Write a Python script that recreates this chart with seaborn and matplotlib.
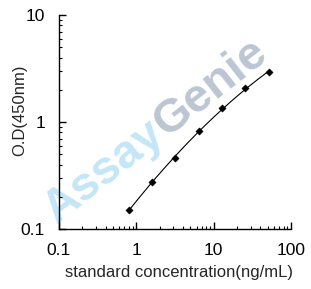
import numpy as np
import pandas as pd
import matplotlib
matplotlib.use("Agg")
import matplotlib.pyplot as plt
import seaborn as sns
from matplotlib.ticker import LogLocator, NullFormatter

concentration = [0.8, 1.6, 3.2, 6.4, 12.8, 25.6, 51.2]
od450 = [0.151, 0.275, 0.458, 0.818, 1.343, 2.06, 2.91]
x_ticks = [0.1, 1, 10, 100]
x_tick_labels = ["0.1", "1", "10", "100"]
y_ticks = [0.1, 1, 10]
y_tick_labels = ["0.1", "1", "10"]

sns.set_style("ticks")
plt.rcParams['font.family'] = ['Liberation Sans', 'DejaVu Sans']

df = pd.DataFrame({"conc": concentration, "od": od450})

# smooth fitted curve (quadratic in log-log space, fitted to the data)
lx = np.log10(df["conc"].values)
ly = np.log10(df["od"].values)
coef = np.polyfit(lx, ly, 2)
fx = np.linspace(lx.min(), lx.max(), 200)
fit = pd.DataFrame({"conc": 10 ** fx, "od": 10 ** np.polyval(coef, fx)})

fig = plt.figure(figsize=(3.11, 2.89), dpi=100)
ax = fig.add_axes([59 / 311, (289 - 229) / 289, (291 - 59) / 311, (229 - 15) / 289])

# watermark
ax.text(0.43, 0.47, "Assay", transform=ax.transAxes, fontsize=34, fontweight="bold",
        color="#c4e6f7", rotation=38, ha="right", va="center", zorder=0,
        rotation_mode="anchor")
ax.text(0.43, 0.47, "Genie", transform=ax.transAxes, fontsize=34, fontweight="bold",
        color="#bcc6d2", rotation=38, ha="left", va="center", zorder=0,
        rotation_mode="anchor")

sns.lineplot(data=fit, x="conc", y="od", ax=ax, color="black", linewidth=0.8, zorder=2)
sns.scatterplot(data=df, x="conc", y="od", ax=ax, color="black", marker="D", s=14,
                edgecolor="black", zorder=3)

ax.set_xscale("log")
ax.set_yscale("log")
ax.set_xlim(0.1, 100)
ax.set_ylim(0.1, 10)
ax.set_xticks(x_ticks)
ax.set_xticklabels(x_tick_labels)
ax.set_yticks(y_ticks)
ax.set_yticklabels(y_tick_labels)
ax.xaxis.set_minor_locator(LogLocator(base=10, subs=np.arange(2, 10)))
ax.yaxis.set_minor_locator(LogLocator(base=10, subs=np.arange(2, 10)))
ax.xaxis.set_minor_formatter(NullFormatter())
ax.yaxis.set_minor_formatter(NullFormatter())

ax.tick_params(which="major", direction="in", length=5, width=1, labelsize=12.5, pad=10, colors="black")
ax.tick_params(which="minor", direction="in", length=2.5, width=0.8, colors="black")
ax.tick_params(axis="y", which="major", pad=10)

for s in ["top", "right"]:
    ax.spines[s].set_visible(False)
for s in ["left", "bottom"]:
    ax.spines[s].set_color("black")
    ax.spines[s].set_linewidth(1)

ax.set_xlabel("standard concentration(ng/mL)", fontsize=12)
ax.set_ylabel("O.D(450nm)", fontsize=12)
ax.xaxis.set_label_coords((179 - 59) / 232, -(265 - 229) / 214)
ax.yaxis.set_label_coords(-(59 - 27) / 232, (229 - 110) / 214)

fig.savefig("out.png", dpi=100)
